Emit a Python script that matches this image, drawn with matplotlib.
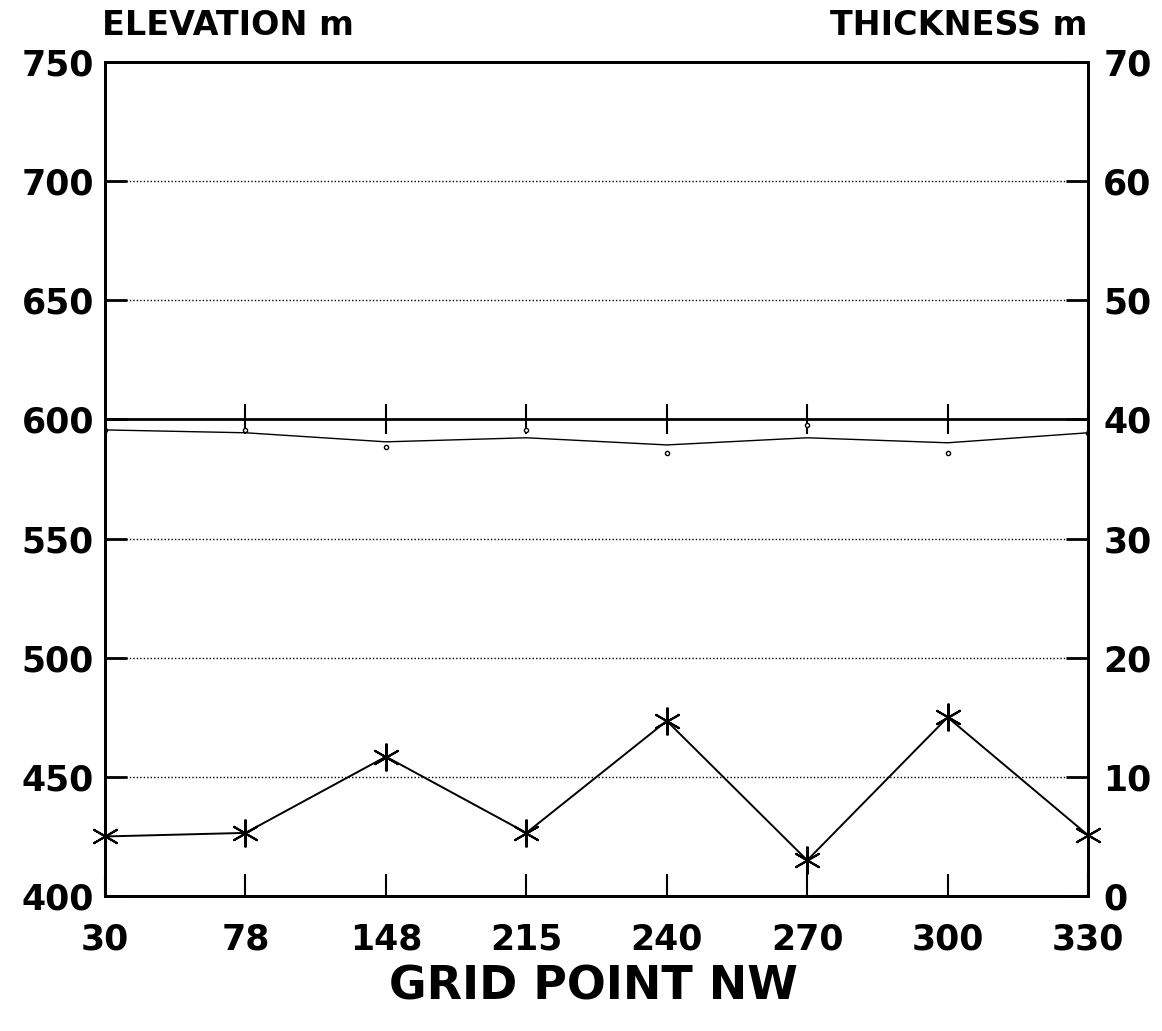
import matplotlib.pyplot as plt
import numpy as np

plt.rcParams['font.family'] = ['DejaVu Sans']
plt.rcParams['font.weight'] = 'bold'

# grid points along the NW section (evenly spaced on the chart)
grid_points = ['30', '78', '148', '215', '240', '270', '300', '330']
# ground elevation profile (left axis)
elevation = [595.6, 594.4, 590.6, 592.3, 589.3, 592.3, 590.2, 594.4]
# small survey marks just below the profile
marks = [595.6, 595.6, 588.5, 595.6, 586.0, 597.5, 586.0, 594.4]
# reference level with tick marks
ref_level = 600
# layer thickness (right axis)
thickness = [5.0, 5.3, 11.7, 5.3, 14.7, 3.0, 15.0, 5.1]

x = np.arange(len(grid_points))

fig = plt.figure(figsize=(11.62, 10.31), dpi=100)
ax = fig.add_axes([0.0904, 0.1309, 0.8460, 0.8090])
ax2 = ax.twinx()

ax.set_xlim(0, len(grid_points) - 1)
ax.set_ylim(400, 750)
ax2.set_ylim(0, 70)

# dotted grid lines, solid at 600
for g in [450, 500, 550, 650, 700]:
    ax.axhline(g, color='black', linestyle=(0, (1, 1.5)), linewidth=1.0, zorder=1)
ax.axhline(ref_level, color='black', linewidth=2.0, zorder=2)
ax.plot(x, [ref_level] * len(x), linestyle='none', marker='|', markersize=22,
        markeredgewidth=1.5, color='black', zorder=3)

ax.plot(x, elevation, color='black', linewidth=1.0, zorder=3)
ax.plot(x, marks, linestyle='none', marker='o', markersize=3,
        markerfacecolor='white', markeredgecolor='black', markeredgewidth=1, zorder=3)

ax2.plot(x, thickness, color='black', linewidth=1.4, marker=(6, 2, 0), markersize=20,
         markeredgewidth=1.5, clip_on=False, zorder=4)

ax.set_xticks(x)
ax.set_xticklabels(grid_points)
ax.set_yticks(np.arange(400, 751, 50))
ax2.set_yticks(np.arange(0, 71, 10))

ax.tick_params(axis='x', direction='in', length=16, width=1.5, labelsize=25, pad=19)
ax.tick_params(axis='y', direction='in', length=16, width=2, labelsize=25, pad=8)
ax2.tick_params(axis='y', direction='in', length=16, width=2, labelsize=25, pad=11)

for a in (ax, ax2):
    for s in a.spines.values():
        s.set_linewidth(2)

fig.text(0.088, 0.975, 'ELEVATION m', fontsize=24, fontweight='bold', ha='left', va='center')
fig.text(0.936, 0.975, 'THICKNESS m', fontsize=24, fontweight='bold', ha='right', va='center')
fig.text(0.511, 0.043, 'GRID POINT NW', fontsize=33, fontweight='bold', ha='center', va='center')

fig.savefig('out.png', dpi=100)
